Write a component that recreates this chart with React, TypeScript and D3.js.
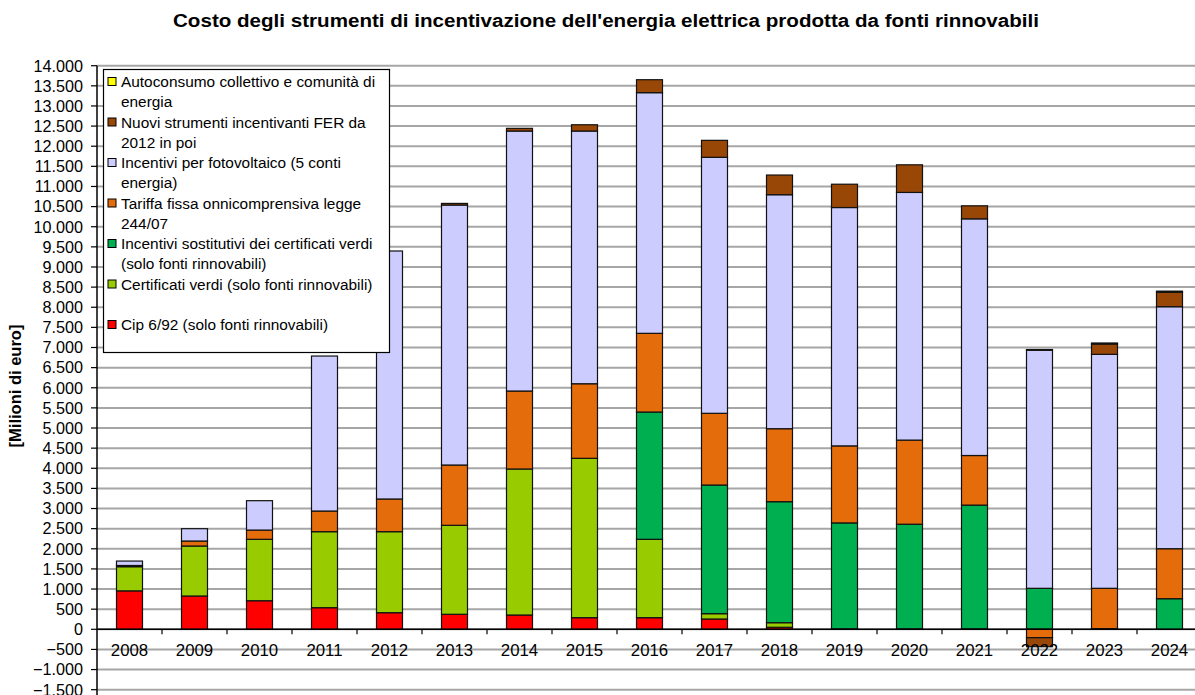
import React from 'react';
import * as d3 from 'd3';

const years = ['2008', '2009', '2010', '2011', '2012', '2013', '2014', '2015', '2016', '2017', '2018', '2019', '2020', '2021', '2022', '2023', '2024'];

// Milioni di euro, stacked bottom -> top
const cip6 = [955, 827, 710, 537, 413, 373, 355, 289, 289, 256, 50, 10, 10, 10, 0, 0, 0];
const certificatiVerdi = [600, 1242, 1525, 1888, 2012, 2210, 3627, 3958, 1946, 132, 114, 0, 0, 0, 0, 0, 0];
const sostitutiviCV = [0, 0, 0, 0, 0, 0, 0, 0, 3162, 3196, 3006, 2633, 2600, 3075, 1018, 15, 760];
const tariffaFissa = [30, 124, 230, 513, 812, 1498, 1937, 1853, 1955, 1781, 1813, 1913, 2090, 1232, -208, 1003, 1242];
const fotovoltaico = [110, 306, 730, 3850, 6160, 6458, 6458, 6277, 5978, 6359, 5812, 5921, 6152, 5879, 5912, 5812, 6011];
const nuoviFER = [0, 0, 0, 0, 0, 40, 67, 156, 322, 422, 489, 579, 686, 323, -224, 257, 357];
const autoconsumo = [0, 0, 0, 0, 0, 0, 0, 0, 0, 0, 0, 0, 0, 0, 20, 25, 30];

const yTicks = d3.range(-1500, 14001, 500);

const series = [
  { key: 'cip6', label: ['Cip 6/92 (solo fonti rinnovabili)'], color: '#FF0000', values: cip6 },
  { key: 'cv', label: ['Certificati verdi (solo fonti rinnovabili)'], color: '#99CC00', values: certificatiVerdi },
  { key: 'sost', label: ['Incentivi sostitutivi dei certificati verdi', '(solo fonti rinnovabili)'], color: '#00B050', values: sostitutiviCV },
  { key: 'tar', label: ['Tariffa fissa onnicomprensiva legge', '244/07'], color: '#E46C0A', values: tariffaFissa },
  { key: 'pv', label: ['Incentivi per fotovoltaico (5 conti', 'energia)'], color: '#CCCCFF', values: fotovoltaico },
  { key: 'fer', label: ['Nuovi strumenti incentivanti FER da', '2012 in poi'], color: '#994706', values: nuoviFER },
  { key: 'auto', label: ['Autoconsumo collettivo e comunità di', 'energia'], color: '#FFFF00', values: autoconsumo },
];

const W = 1195;
const H = 695;
const FONT = 'Liberation Sans, Arial, sans-serif';

const fmt = d3.formatLocale({ decimal: ',', thousands: '.', grouping: [3], currency: ['', '€'] }).format(',d');

export default function App() {
  const x0 = 97;
  const band = 65;
  const x = d3.scaleBand<string>().domain(years).range([x0, x0 + band * years.length]);
  const y = d3.scaleLinear().domain([0, 14000]).range([629.3, 65.7]);
  const barW = 26;

  const rows = years.map((yr, i) => {
    const r: any = { year: yr };
    series.forEach(s => (r[s.key] = s.values[i]));
    return r;
  });
  const stacked = d3.stack<any>().keys(series.map(s => s.key)).offset(d3.stackOffsetDiverging)(rows);

  const legendItems = [...series].reverse();

  return (
    <svg width={W} height={H} style={{ position: 'absolute', left: 0, top: 0, background: '#fff' }} fontFamily={FONT}>
      <text x={606} y={27} textAnchor="middle" fontWeight="bold" fontSize={18} textLength={866} lengthAdjust="spacingAndGlyphs">
        Costo degli strumenti di incentivazione dell'energia elettrica prodotta da fonti rinnovabili
      </text>

      {/* grid */}
      {yTicks.map(t => (
        <line key={t} x1={x0} x2={W} y1={y(t)} y2={y(t)} stroke="#A6A6A6" strokeWidth={2} />
      ))}

      {/* bars */}
      {stacked.map((layer, si) =>
        layer.map((d, i) => {
          const h = Math.abs(y(d[0]) - y(d[1]));
          if (h < 0.01) return null;
          const cx = (x(years[i]) as number) + x.bandwidth() / 2;
          return (
            <rect
              key={series[si].key + i}
              x={cx - barW / 2}
              y={Math.min(y(d[0]), y(d[1]))}
              width={barW}
              height={h}
              fill={series[si].color}
              stroke="#111"
              strokeWidth={1.2}
            />
          );
        })
      )}

      {/* y axis */}
      <line x1={x0} x2={x0} y1={y(14000)} y2={H} stroke="#000" strokeWidth={1.5} />
      {yTicks.map(t => (
        <g key={'t' + t}>
          <line x1={x0 - 6} x2={x0} y1={y(t)} y2={y(t)} stroke="#000" strokeWidth={1.2} />
          <text x={83} y={y(t)} dy="0.36em" textAnchor="end" fontSize={16.2}>
            {fmt(t)}
          </text>
        </g>
      ))}
      <text transform={`translate(21,386) rotate(-90)`} textAnchor="middle" fontWeight="bold" fontSize={16.5}>
        [Milioni di euro]
      </text>

      {/* category axis at zero */}
      <line x1={x0} x2={W} y1={y(0)} y2={y(0)} stroke="#000" strokeWidth={1.5} />
      {years.map(yr => (
        <g key={'c' + yr}>
          <line x1={(x(yr) as number) + band} x2={(x(yr) as number) + band} y1={y(0)} y2={y(0) + 5} stroke="#000" strokeWidth={1.2} />
          <text x={(x(yr) as number) + band / 2} y={y(0) + 27} textAnchor="middle" fontSize={16.8}>
            {yr}
          </text>
        </g>
      ))}

      {/* legend */}
      <rect x={103.5} y={69.5} width={286} height={283} fill="#fff" stroke="#000" strokeWidth={1.2} />
      {legendItems.map((s, i) => {
        const cy = 81.5 + i * 40.5;
        return (
          <g key={'l' + s.key}>
            <rect x={108} y={cy - 4} width={8} height={8} fill={s.color} stroke="#000" strokeWidth={1} />
            {s.label.map((ln, j) => (
              <text key={j} x={121} y={cy + j * 20} dy="0.36em" fontSize={15.4}>
                {ln}
              </text>
            ))}
          </g>
        );
      })}
    </svg>
  );
}
